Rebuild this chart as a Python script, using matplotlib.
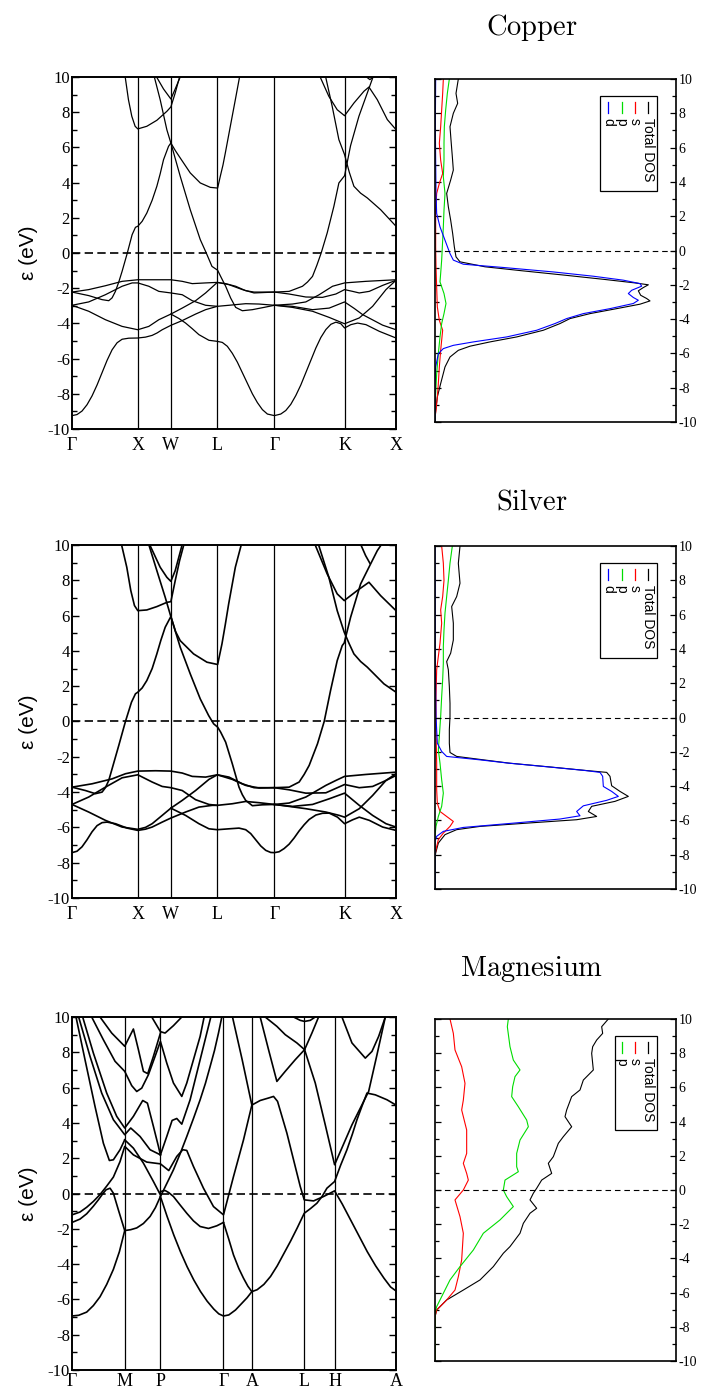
import matplotlib
matplotlib.use("Agg")
import matplotlib.pyplot as plt
from matplotlib.patches import Rectangle

plt.rcParams['mathtext.fontset'] = 'cm'
plt.rcParams['font.family'] = ['Liberation Serif', 'DejaVu Serif']
plt.rcParams['axes.unicode_minus'] = False

# ---------------- band structures: (path distance, energy eV) ----------------
CU_KPOS = [0, 1.97, 2.96, 4.35, 6.06, 8.16, 9.70]
CU_KLAB = ['Γ', 'X', 'W', 'L', 'Γ', 'K', 'X']
CU_BANDS = [
    [(0, -9.24), (0.15, -9.18), (0.3, -8.98), (0.45, -8.62), (0.6, -8.12), (0.75, -7.5), (0.9, -6.8),
     (1.05, -6.1), (1.2, -5.5), (1.35, -5.1), (1.5, -4.9), (1.7, -4.84), (1.97, -4.83), (2.2, -4.78),
     (2.4, -4.68), (2.55, -4.54), (2.7, -4.36), (2.96, -4.11), (3.3, -3.84), (3.7, -3.47), (4.0, -3.22),
     (4.35, -3.03), (4.7, -2.97), (5.2, -2.88), (5.6, -2.90), (6.06, -2.97), (6.6, -3.03), (7.2, -3.22),
     (7.7, -3.13), (8.16, -2.78), (8.45, -3.15), (8.7, -3.5), (9.0, -3.8), (9.3, -4.1), (9.7, -4.36)],
    [(2.96, -3.47), (3.2, -3.72), (3.4, -3.98), (3.6, -4.3), (3.8, -4.64), (4.1, -4.96), (4.35, -5.02),
     (4.5, -5.08), (4.65, -5.3), (4.8, -5.7), (4.95, -6.2), (5.1, -6.8), (5.25, -7.4), (5.4, -8.0),
     (5.55, -8.5), (5.7, -8.9), (5.85, -9.15), (6.06, -9.24), (6.25, -9.15), (6.4, -8.95), (6.55, -8.6),
     (6.7, -8.1), (6.85, -7.5), (7.0, -6.8), (7.15, -6.1), (7.3, -5.4), (7.45, -4.8), (7.6, -4.35),
     (7.75, -4.05), (7.9, -3.93), (8.05, -4.02), (8.16, -4.26), (8.35, -4.07), (8.55, -3.98), (8.8, -4.07),
     (9.2, -4.45), (9.7, -4.83)],
    [(0, -2.22), (0.5, -2.08), (1.0, -1.86), (1.5, -1.61), (1.97, -1.52), (2.5, -1.52), (2.96, -1.52),
     (3.3, -1.61), (3.6, -1.74), (4.0, -1.70), (4.35, -1.67), (4.6, -1.74), (4.9, -1.89), (5.2, -2.14),
     (5.45, -2.22), (6.06, -2.22), (6.5, -2.33), (7.0, -2.50), (7.5, -2.52), (7.9, -2.33), (8.16, -2.08),
     (8.4, -2.18), (8.6, -2.27), (8.9, -2.18), (9.3, -1.84), (9.7, -1.55)],
    [(0, -2.97), (0.5, -2.78), (1.0, -2.37), (1.5, -1.89), (1.8, -1.70), (1.97, -1.70), (2.3, -1.89),
     (2.6, -2.18), (2.96, -2.27), (3.3, -2.37), (3.6, -2.71), (4.0, -2.97), (4.35, -3.03)],
    [(0, -2.97), (0.5, -3.31), (1.0, -3.79), (1.5, -4.17), (1.97, -4.36), (2.3, -4.17), (2.6, -3.79),
     (2.96, -3.47), (3.3, -3.13), (3.7, -2.71), (4.0, -2.27), (4.35, -1.67), (4.7, -1.80), (5.1, -2.08),
     (5.45, -2.27), (6.06, -2.22)],
    [(0, -2.22), (0.5, -2.42), (0.9, -2.65), (1.1, -2.71), (1.2, -2.55), (1.3, -2.18), (1.4, -1.65),
     (1.5, -1.04), (1.65, -0.04), (1.8, 1.04), (1.9, 1.46), (1.97, 1.52), (2.1, 1.8), (2.24, 2.27),
     (2.4, 3.0), (2.54, 3.79), (2.64, 4.5), (2.74, 5.30), (2.89, 6.06), (2.96, 6.25), (3.1, 5.8),
     (3.24, 5.40), (3.54, 4.55), (3.84, 3.98), (4.14, 3.73), (4.36, 3.69), (4.44, 4.36), (4.52, 5.0),
     (4.59, 5.68), (4.74, 7.2), (4.89, 8.71), (5.02, 10.04)],
    [(2.46, 10.04), (2.64, 8.71), (2.84, 7.0), (2.96, 6.25), (3.24, 4.36), (3.54, 2.46), (3.84, 0.76),
     (4.02, 0.0), (4.19, -0.76), (4.36, -0.98), (4.45, -1.33), (4.6, -1.89), (4.75, -2.56), (4.9, -3.09),
     (5.1, -3.28), (5.4, -3.22), (5.75, -3.09), (6.06, -2.97)],
    [(6.06, -2.22), (6.5, -2.18), (6.9, -1.89), (7.05, -1.65), (7.2, -1.33), (7.33, -0.7), (7.46, 0.0),
     (7.64, 1.14), (7.84, 2.65), (7.99, 3.98), (8.16, 4.39), (8.34, 6.1), (8.59, 7.77), (8.84, 9.09),
     (9.02, 10.04)],
    [(7.59, 10.04), (7.79, 8.33), (7.99, 6.44), (8.16, 5.59), (8.3, 4.6), (8.44, 3.79), (8.64, 3.4),
     (8.84, 3.13), (9.24, 2.46), (9.70, 1.52)],
    [(7.42, 10.04), (7.69, 8.9), (7.94, 8.14), (8.16, 7.8), (8.44, 8.52), (8.74, 9.19), (8.89, 9.43),
     (9.14, 8.71), (9.44, 7.58), (9.70, 7.01)],
    [(8.79, 10.04), (8.92, 9.85), (9.04, 10.04)],
    [(1.59, 10.04), (1.69, 8.71), (1.79, 7.77), (1.89, 7.2), (1.97, 7.05), (2.24, 7.2), (2.54, 7.54),
     (2.84, 8.05), (2.96, 8.30), (3.09, 9.09), (3.22, 10.0)],
    [(2.52, 10.04), (2.74, 9.32), (2.96, 8.75), (3.09, 9.32), (3.24, 10.0)],
    [(6.06, -2.97), (6.6, -2.90), (7.0, -2.78), (7.4, -2.37), (7.8, -1.89), (8.16, -1.70), (8.8, -1.61),
     (9.70, -1.52)],
    [(6.06, -2.97), (6.6, -3.09), (7.2, -3.31), (7.7, -3.66), (8.16, -4.02), (8.6, -3.69), (9.0, -3.03),
     (9.4, -2.08), (9.70, -1.55)],
]

AG_KPOS = [0, 1.97, 2.96, 4.35, 6.06, 8.16, 9.70]
AG_KLAB = ['Γ', 'X', 'W', 'L', 'Γ', 'K', 'X']
AG_BANDS = [
    [(0, -7.43), (0.15, -7.35), (0.3, -7.1), (0.45, -6.7), (0.6, -6.25), (0.75, -5.9), (0.9, -5.73),
     (1.05, -5.7), (1.3, -5.79), (1.65, -6.04), (1.97, -6.17), (2.2, -6.1), (2.4, -5.98), (2.7, -5.70),
     (2.96, -5.47), (3.4, -5.13), (3.8, -4.85), (4.2, -4.75), (4.35, -4.75), (4.8, -4.66), (5.2, -4.53),
     (5.6, -4.60), (6.06, -4.70), (6.5, -4.81), (7.0, -4.94), (7.6, -5.13), (8.0, -5.32), (8.16, -5.42),
     (8.6, -4.94), (9.0, -4.19), (9.4, -3.34), (9.70, -2.96)],
    [(0, -4.70), (0.5, -5.13), (1.0, -5.60), (1.5, -5.98), (1.97, -6.11), (2.2, -6.0), (2.4, -5.79),
     (2.7, -5.32), (2.96, -4.91), (3.3, -4.47), (3.7, -3.91), (4.1, -3.28), (4.35, -3.02), (4.7, -3.15),
     (5.1, -3.53), (5.45, -3.75), (6.06, -3.75), (6.5, -3.87), (7.0, -4.06), (7.6, -4.04), (8.16, -3.57),
     (8.6, -3.75), (9.0, -3.68), (9.4, -3.34), (9.70, -3.06)],
    [(0, -4.70), (0.5, -4.28), (1.0, -3.72), (1.5, -3.19), (1.97, -3.02), (2.4, -3.43), (2.7, -3.68),
     (2.96, -3.75), (3.3, -3.91), (3.7, -4.43), (4.1, -4.70), (4.35, -4.75)],
    [(0, -3.72), (0.6, -3.53), (1.2, -3.25), (1.6, -2.96), (1.97, -2.81), (2.5, -2.79), (2.96, -2.81),
     (3.3, -2.92), (3.6, -3.11), (4.0, -3.15), (4.35, -3.02), (4.8, -3.28), (5.2, -3.62), (5.6, -3.77),
     (6.06, -3.75)],
    [(6.06, -4.70), (6.5, -4.62), (7.0, -4.28), (7.6, -3.62), (7.9, -3.34), (8.16, -3.11), (8.8, -3.0),
     (9.70, -2.87)],
    [(2.96, -4.91), (3.4, -5.32), (3.8, -5.79), (4.1, -6.08), (4.35, -6.13), (4.7, -6.08), (5.0, -6.04),
     (5.2, -6.13), (5.35, -6.35), (5.5, -6.7), (5.65, -7.05), (5.8, -7.3), (5.95, -7.42), (6.06, -7.43),
     (6.2, -7.38), (6.35, -7.2), (6.5, -6.95), (6.65, -6.6), (6.8, -6.2), (6.95, -5.85), (7.1, -5.55),
     (7.3, -5.3), (7.5, -5.2), (7.7, -5.19), (7.95, -5.42), (8.16, -5.79), (8.4, -5.57), (8.6, -5.42),
     (8.9, -5.60), (9.3, -5.98), (9.70, -6.17)],
    [(6.06, -4.70), (6.6, -4.81), (7.2, -4.70), (7.7, -4.38), (8.16, -4.06), (8.6, -4.75), (9.0, -5.32),
     (9.4, -5.79), (9.70, -5.98)],
    [(0, -3.72), (0.4, -3.91), (0.7, -4.09), (0.9, -4.0), (1.0, -3.75), (1.1, -3.34), (1.2, -2.68),
     (1.4, -1.36), (1.6, 0.0), (1.78, 1.09), (1.9, 1.57), (1.97, 1.66), (2.1, 1.9), (2.24, 2.32),
     (2.4, 3.0), (2.54, 3.83), (2.66, 4.6), (2.79, 5.34), (2.96, 5.95), (3.1, 5.1), (3.24, 4.58),
     (3.64, 3.83), (4.04, 3.36), (4.36, 3.23), (4.49, 4.40), (4.59, 5.5), (4.69, 6.66), (4.89, 8.74),
     (5.06, 9.96)],
    [(2.31, 9.96), (2.54, 8.55), (2.79, 7.04), (2.96, 5.94), (3.24, 4.21), (3.54, 2.70), (3.84, 1.28),
     (4.09, 0.34), (4.24, -0.13), (4.36, -0.32), (4.45, -0.60), (4.6, -1.17), (4.8, -2.40), (5.0, -3.72),
     (5.1, -4.15), (5.2, -4.47), (5.4, -4.77), (5.7, -4.72), (6.06, -4.70)],
    [(6.06, -3.75), (6.5, -3.72), (6.8, -3.43), (6.95, -3.0), (7.1, -2.49), (7.35, -1.26), (7.55, 0.0),
     (7.74, 1.75), (7.94, 3.45), (8.09, 4.30), (8.15, 4.45), (8.34, 5.9), (8.64, 7.79), (8.89, 8.74),
     (9.14, 9.68), (9.24, 9.96)],
    [(7.39, 9.96), (7.69, 8.17), (7.94, 6.28), (8.15, 5.06), (8.3, 4.4), (8.44, 3.83), (8.64, 3.4),
     (8.84, 3.08), (9.34, 2.13), (9.70, 1.66)],
    [(7.29, 9.96), (7.64, 8.36), (7.94, 7.23), (8.15, 6.85), (8.54, 7.42), (8.89, 7.89), (9.24, 7.13),
     (9.70, 6.28)],
    [(8.66, 9.96), (8.79, 9.40), (8.92, 8.96)],
    [(1.49, 9.96), (1.64, 8.74), (1.76, 7.42), (1.87, 6.57), (1.97, 6.28), (2.24, 6.32), (2.54, 6.51),
     (2.84, 6.75), (2.96, 6.79), (3.09, 7.98), (3.22, 9.11), (3.34, 9.96)],
    [(2.34, 9.96), (2.64, 8.74), (2.84, 8.17), (2.96, 7.94), (3.09, 8.55), (3.29, 9.96)],
]

MG_KPOS = [0, 1.58, 2.65, 4.54, 5.39, 6.96, 7.87, 9.71]
MG_KLAB = ['Γ', 'M', 'P', 'Γ', 'A', 'L', 'H', 'A']
MG_BANDS = [
    [(0, -6.94), (0.2, -6.9), (0.44, -6.72), (0.64, -6.35), (0.84, -5.85), (1.04, -5.15), (1.24, -4.3),
     (1.42, -3.3), (1.58, -2.1), (1.76, -2.05), (1.94, -1.95), (2.14, -1.7), (2.34, -1.30), (2.5, -0.8),
     (2.65, -0.17), (2.85, 0.6), (3.04, 1.34), (3.24, 2.25), (3.44, 3.23), (3.64, 4.25), (3.84, 5.31),
     (4.0, 6.25), (4.14, 7.2), (4.27, 8.1), (4.39, 9.09), (4.49, 10.0)],
    [(0, -1.64), (0.24, -1.45), (0.44, -1.15), (0.64, -0.72), (0.79, -0.36), (0.92, -0.02), (1.02, 0.21),
     (1.14, 0.30), (1.24, 0.02), (1.39, -0.93), (1.58, -2.1)],
    [(2.65, -0.17), (2.85, -1.3), (3.05, -2.35), (3.25, -3.3), (3.45, -4.15), (3.65, -4.9), (3.85, -5.55),
     (4.05, -6.1), (4.25, -6.55), (4.4, -6.82), (4.54, -6.94), (4.7, -6.88), (4.9, -6.6), (5.1, -6.2),
     (5.25, -5.9), (5.39, -5.56), (5.55, -5.45), (5.75, -5.15), (5.95, -4.7), (6.15, -4.1), (6.35, -3.4),
     (6.55, -2.7), (6.75, -1.95), (6.96, -1.12), (7.15, -0.85), (7.34, -0.55), (7.5, -0.15), (7.64, 0.30),
     (7.87, 0.68), (8.05, 1.6), (8.24, 2.48), (8.4, 3.35), (8.54, 4.18), (8.7, 5.0), (8.84, 5.69),
     (9.09, 5.59), (9.44, 5.31), (9.71, 5.01)],
    [(4.54, -1.64), (4.7, -2.6), (4.84, -3.48), (5.0, -4.25), (5.14, -4.80), (5.27, -5.25), (5.39, -5.56)],
    [(2.65, 0.11), (2.79, 0.17), (2.9, 0.05), (3.04, -0.17), (3.24, -0.65), (3.44, -1.12), (3.64, -1.55),
     (3.84, -1.87), (4.09, -1.98), (4.34, -1.83), (4.54, -1.64)],
    [(1.58, 3.04), (1.84, 2.57), (2.14, 1.72), (2.44, 0.68), (2.65, -0.08)],
    [(0, -1.21), (0.24, -1.05), (0.44, -0.78), (0.64, -0.45), (0.84, -0.06), (1.04, 0.42), (1.24, 0.93),
     (1.44, 1.81), (1.58, 2.67), (1.84, 2.19), (2.24, 1.78), (2.65, 1.68), (2.90, 1.30), (3.14, 2.10),
     (3.32, 2.48), (3.44, 2.44), (3.64, 1.53), (3.94, 0.30), (4.24, -0.74), (4.54, -1.21), (4.84, 0.96),
     (5.14, 3.04), (5.39, 5.01), (5.64, 5.27), (5.89, 5.41), (6.04, 5.5), (6.16, 5.22), (6.44, 3.42),
     (6.69, 1.53), (6.84, 0.40), (6.96, -0.36), (7.24, -0.42), (7.54, -0.17), (7.87, 0.15), (8.1, -0.6),
     (8.35, -1.5), (8.6, -2.4), (8.85, -3.3), (9.1, -4.1), (9.35, -4.8), (9.55, -5.3), (9.71, -5.52)],
    [(0.12, 10.0), (0.39, 7.58), (0.69, 4.93), (0.94, 2.85), (1.12, 1.87), (1.24, 1.91), (1.44, 2.48),
     (1.58, 3.04)],
    [(0.20, 10.0), (0.54, 7.77), (0.89, 5.69), (1.24, 4.18), (1.58, 3.33), (1.76, 3.71), (2.04, 3.23),
     (2.34, 2.48), (2.65, 2.19)],
    [(0.32, 10.0), (0.64, 7.96), (1.04, 5.69), (1.34, 4.37), (1.58, 3.71), (1.84, 4.37), (2.12, 5.27),
     (2.26, 5.12), (2.44, 3.80), (2.59, 2.67), (2.65, 2.19)],
    [(0.59, 10.0), (0.94, 8.71), (1.29, 7.49), (1.58, 6.92), (1.79, 6.11), (1.94, 5.78), (2.09, 5.97),
     (2.29, 6.73), (2.49, 7.77), (2.65, 8.62), (2.84, 7.39), (3.04, 6.26), (3.29, 5.5), (3.44, 6.26),
     (3.64, 7.58), (3.84, 8.9), (3.96, 10.0)],
    [(0.84, 10.0), (1.19, 9.09), (1.58, 8.34), (1.84, 9.32), (1.99, 8.15), (2.14, 6.92), (2.27, 6.79),
     (2.44, 7.77), (2.65, 9.09)],
    [(2.65, 2.19), (2.84, 3.23), (3.0, 4.14), (3.14, 4.25), (3.29, 3.93), (3.54, 5.31), (3.79, 7.2),
     (4.04, 9.09), (4.16, 10.0)],
    [(2.39, 10.0), (2.65, 9.17), (2.79, 9.09), (3.04, 9.51), (3.29, 10.0)],
    [(4.81, 10.0), (5.10, 7.58), (5.39, 5.01)],
    [(5.64, 10.0), (5.89, 8.15), (6.14, 6.35), (6.39, 6.92), (6.69, 7.58), (6.97, 8.15)],
    [(5.79, 10.0), (6.14, 9.47), (6.39, 9.0), (6.74, 8.53), (6.97, 8.15), (7.19, 9.09), (7.39, 10.0)],
    [(6.97, 8.15), (7.29, 6.26), (7.59, 3.89), (7.87, 1.63), (8.39, 3.89), (8.89, 5.78), (9.14, 7.86),
     (9.39, 10.0)],
    [(8.09, 10.0), (8.39, 8.53), (8.79, 7.67), (8.99, 8.05), (9.19, 8.9), (9.39, 10.0)],
    [(6.64, 10.0), (6.84, 9.81), (6.97, 9.75), (7.14, 9.81), (7.29, 10.0)],
]

# ---------------- densities of states: (energy eV, DOS arb. units) ----------------
CU_TOTAL = [(10.0, .70), (9.16, .63), (8.58, .68), (8.0, .55), (7.22, .45), (6.44, .48), (5.47, .52),
            (4.69, .55), (4.11, .47), (3.33, .35), (2.55, .40), (1.77, .47), (0.99, .53), (0.21, .58),
            (-0.37, .63), (-0.66, .75), (-0.95, 1.5), (-1.18, 2.6), (-1.44, 3.9), (-1.69, 5.1), (-1.89, 6.0),
            (-2.0, 6.4), (-2.16, 6.25), (-2.35, 6.1), (-2.61, 6.17), (-2.80, 6.35), (-2.94, 6.45),
            (-3.13, 6.15), (-3.39, 5.45), (-3.68, 4.65), (-3.97, 4.05), (-4.26, 3.75), (-4.65, 3.25),
            (-5.04, 2.45), (-5.33, 1.65), (-5.58, 1.05), (-5.82, .70), (-6.21, .45), (-6.79, .30),
            (-7.76, .17), (-8.54, .07), (-9.32, .02), (-10.0, 0)]
CU_S = [(10, .25), (9.16, .23), (8.19, .20), (7.22, .17), (6.25, .13), (5.27, .17), (4.49, .23), (3.91, .13),
        (3.33, .05), (2.35, .02), (1.38, .02), (0.21, .02), (-0.95, .03), (-2.16, .05), (-3.29, .07),
        (-4.07, .13), (-4.65, .23), (-5.23, .20), (-5.82, .17), (-6.79, .13), (-7.76, .10), (-8.54, .07),
        (-9.32, .03), (-9.71, 0), (-10, 0)]
CU_P = [(10, .43), (9.16, .37), (8.19, .32), (7.22, .28), (6.25, .27), (5.27, .27), (4.30, .25), (3.33, .30),
        (2.35, .27), (1.38, .25), (0.21, .22), (-0.56, .20), (-1.34, .17), (-1.83, .15), (-2.51, .27),
        (-3.09, .33), (-3.68, .27), (-4.26, .20), (-5.04, .15), (-6.01, .10), (-7.18, .05), (-8.35, .02),
        (-9.12, 0), (-10, 0)]
CU_D = [(10, .02), (7.22, .01), (5.27, .02), (3.33, .03), (2.16, .05), (1.38, .15), (0.60, .30), (-0.18, .45),
        (-0.56, .55), (-0.80, .85), (-0.99, 2.05), (-1.25, 3.55), (-1.50, 4.75), (-1.73, 5.65), (-1.93, 6.15),
        (-2.08, 6.2), (-2.32, 5.9), (-2.51, 5.8), (-2.74, 5.95), (-2.90, 6.1), (-3.09, 5.95), (-3.39, 5.25),
        (-3.68, 4.45), (-3.97, 3.95), (-4.26, 3.6), (-4.65, 3.05), (-5.04, 2.15), (-5.33, 1.15), (-5.53, .55),
        (-5.72, .25), (-6.01, .10), (-6.79, .02), (-7.76, 0), (-10, 0)]

AG_TOTAL = [(10.0, .75), (8.99, .70), (7.83, .75), (7.05, .65), (6.47, .50), (5.50, .55), (4.52, .55),
            (3.75, .47), (3.26, .35), (2.78, .40), (1.81, .43), (0.83, .45), (0.06, .45), (-0.72, .43),
            (-1.50, .43), (-2.04, .45), (-2.27, .65), (-2.66, 2.22), (-2.89, 3.48), (-3.09, 4.53),
            (-3.20, 5.15), (-3.43, 5.25), (-3.98, 5.30), (-4.31, 5.55), (-4.60, 5.80), (-4.89, 5.40),
            (-5.18, 4.70), (-5.48, 4.60), (-5.77, 4.85), (-5.96, 4.25), (-6.16, 2.75), (-6.35, 1.35),
            (-6.54, .65), (-6.83, .30), (-7.32, .10), (-7.90, .02), (-8.29, 0), (-10, 0)]
AG_S = [(10, .20), (9.0, .25), (8.0, .27), (7.05, .23), (6.28, .17), (5.5, .20), (4.33, .15), (3.56, .10),
        (2.78, .05), (1.22, .03), (-0.72, .03), (-2.66, .05), (-4.21, .05), (-5.0, .07), (-5.48, .15),
        (-5.77, .35), (-6.06, .55), (-6.35, .45), (-6.74, .25), (-7.12, .10), (-7.7, .03), (-8.1, 0), (-10, 0)]
AG_P = [(10, .52), (9.0, .45), (8.0, .40), (7.05, .35), (6.09, .30), (5.11, .27), (4.14, .25), (3.17, .25),
        (2.20, .23), (1.22, .20), (0.06, .17), (-1.10, .13), (-1.88, .10), (-2.66, .15), (-3.63, .20),
        (-4.41, .25), (-5.18, .20), (-5.77, .10), (-6.35, .03), (-6.9, 0), (-10, 0)]
AG_D = [(10, 0), (3.17, .01), (0.06, .03), (-1.50, .07), (-1.98, .20), (-2.27, .35), (-2.47, 1.35),
        (-2.66, 2.2), (-2.89, 3.45), (-3.09, 4.5), (-3.20, 4.95), (-3.43, 5.03), (-4.02, 5.05), (-4.31, 5.30),
        (-4.60, 5.50), (-4.83, 5.15), (-5.15, 4.45), (-5.48, 4.25), (-5.73, 4.35), (-5.92, 3.75),
        (-6.16, 2.35), (-6.41, .85), (-6.64, .25), (-6.93, .05), (-7.22, 0), (-10, 0)]

MG_TOTAL = [(10.0, 5.20), (9.55, 5.0), (9.16, 5.03), (8.77, 4.85), (8.38, 4.73), (7.99, 4.70), (7.02, 4.75),
            (6.43, 4.45), (5.85, 4.35), (5.46, 4.10), (4.68, 3.95), (4.29, 3.90), (3.70, 4.10), (3.12, 3.85),
            (2.73, 3.70), (1.95, 3.55), (1.56, 3.40), (0.97, 3.50), (0.58, 3.20), (0.10, 3.05), (-0.19, 2.95),
            (-0.58, 2.85), (-1.07, 3.05), (-1.36, 2.85), (-1.95, 2.65), (-2.53, 2.55), (-3.31, 2.25),
            (-3.70, 2.05), (-4.48, 1.75), (-5.26, 1.35), (-5.85, .85), (-6.43, .35), (-7.02, .05), (-7.41, 0),
            (-10, 0)]
MG_S = [(10, .45), (9.16, .55), (8.19, .60), (7.21, .80), (6.24, .90), (5.26, .85), (4.68, .80), (3.51, .95),
        (2.14, .95), (1.56, .85), (0.97, .95), (0.58, 1.0), (0.0, .85), (-0.58, .60), (-1.56, .75),
        (-2.53, .85), (-4.09, .80), (-5.07, .70), (-5.85, .60), (-6.43, .35), (-7.02, .05), (-7.41, 0), (-10, 0)]
MG_P = [(10, 2.20), (9.55, 2.17), (8.38, 2.25), (7.60, 2.35), (7.02, 2.55), (6.63, 2.40), (6.04, 2.33),
        (5.46, 2.30), (4.87, 2.50), (4.09, 2.75), (3.70, 2.80), (2.92, 2.55), (2.14, 2.45), (1.36, 2.45),
        (1.07, 2.50), (0.58, 2.10), (0.0, 2.05), (-0.39, 2.15), (-0.97, 2.35), (-1.75, 1.95), (-2.53, 1.45),
        (-3.51, 1.15), (-4.48, .75), (-5.26, .45), (-6.04, .25), (-6.82, .05), (-7.21, 0), (-10, 0)]

DOS_XMAX = 7.23
W, H = 703, 1391


def px_axes(fig, left, top, right, bottom):
    return fig.add_axes([left / W, 1 - bottom / H, (right - left) / W, (bottom - top) / H])


def draw_bands(ax, bands, kpos, klab, lw, xpad):
    for band in bands:
        k, e = zip(*band)
        ax.plot(k, e, color='black', lw=lw, solid_joinstyle='round')
    for kp in kpos[1:-1]:
        ax.axvline(kp, color='black', lw=0.9)
    ax.axhline(0, color='black', lw=1.2, ls=(0, (5, 2.6)))
    ax.set_xlim(kpos[0], kpos[-1])
    ax.set_ylim(-10, 10)
    ax.set_xticks(kpos)
    ax.set_xticklabels(klab, fontsize=13)
    ax.tick_params(axis='x', length=0, pad=xpad)
    ax.set_yticks(range(-10, 11, 2))
    ax.set_yticks(range(-9, 10, 2), minor=True)
    ax.tick_params(axis='y', which='both', direction='in', left=True, right=True, width=1.0,
                   labelsize=12, pad=1.5)
    ax.tick_params(axis='y', which='major', length=5)
    ax.tick_params(axis='y', which='minor', length=3.5)
    for s in ax.spines.values():
        s.set_linewidth(1.4)


def draw_dos(ax, curves):
    for data, color in curves:
        e, n = zip(*data)
        ax.plot(n, e, color=color, lw=0.8)
    ax.axhline(0, color='black', lw=0.8, ls=(0, (5, 3.5)))
    ax.set_xlim(0, DOS_XMAX)
    ax.set_ylim(-10, 10)
    ax.set_xticks([])
    ax.set_yticks(range(-10, 11, 2))
    ax.set_yticks(range(-9, 10, 2), minor=True)
    ax.yaxis.tick_right()
    ax.tick_params(axis='y', which='both', direction='in', left=True, right=True, width=0.9,
                   labelleft=False, labelright=True, labelsize=10, pad=2)
    ax.tick_params(axis='y', which='major', length=4.5)
    ax.tick_params(axis='y', which='minor', length=3)
    for s in ax.spines.values():
        s.set_linewidth(1.2)


def draw_legend(ax, entries, x0):
    # sideways legend, as in the grace output
    x1, y0, y1 = 0.921, 0.674, 0.950
    ax.add_patch(Rectangle((x0, y0), x1 - x0, y1 - y0, transform=ax.transAxes,
                           fc='white', ec='black', lw=0.9, zorder=5))
    xc = 0.884
    for label, color in entries:
        ax.plot([xc, xc], [0.934, 0.901], transform=ax.transAxes, color=color, lw=0.9, zorder=6)
        ax.text(xc, 0.885, label, rotation=-90, ha='center', va='top', transform=ax.transAxes,
                fontsize=10, family=['Liberation Sans', 'DejaVu Sans'], zorder=6)
        xc -= 0.055


fig = plt.figure(figsize=(W / 100, H / 100), dpi=100)

panels = [
    ('Copper', CU_BANDS, CU_KPOS, CU_KLAB, 0.9,
     [(CU_TOTAL, 'black'), (CU_S, 'red'), (CU_P, '#00dd00'), (CU_D, 'blue')],
     [('Total DOS', 'black'), ('s', 'red'), ('p', '#00dd00'), ('d', 'blue')],
     (77, 429), (79, 422), 35, 5.5),
    ('Silver', AG_BANDS, AG_KPOS, AG_KLAB, 1.2,
     [(AG_TOTAL, 'black'), (AG_S, 'red'), (AG_P, '#00dd00'), (AG_D, 'blue')],
     [('Total DOS', 'black'), ('s', 'red'), ('p', '#00dd00'), ('d', 'blue')],
     (545, 898), (546, 889), 509, 5.5),
    ('Magnesium', MG_BANDS, MG_KPOS, MG_KLAB, 1.2,
     [(MG_TOTAL, 'black'), (MG_S, 'red'), (MG_P, '#00dd00')],
     [('Total DOS', 'black'), ('s', 'red'), ('p', '#00dd00')],
     (1017, 1370), (1019, 1361), 976, 2),
]

for name, bands, kpos, klab, lw, curves, entries, (bt, bb), (dt, db), ty, xpad in panels:
    axb = px_axes(fig, 72, bt, 396, bb)
    draw_bands(axb, bands, kpos, klab, lw, xpad)
    fig.text(28 / W, 1 - (bt + bb) / 2 / H, 'ε (eV)', rotation=90, ha='center', va='center',
             fontsize=15, family=['Liberation Sans', 'DejaVu Sans'])
    axd = px_axes(fig, 435, dt, 676, db)
    draw_dos(axd, curves)
    draw_legend(axd, entries, 0.685 if len(entries) == 4 else 0.747)
    fig.text(532 / W, 1 - ty / H, r'$\mathrm{%s}$' % name, ha='center', va='baseline', fontsize=20.5)

fig.savefig('out.png', dpi=100)
